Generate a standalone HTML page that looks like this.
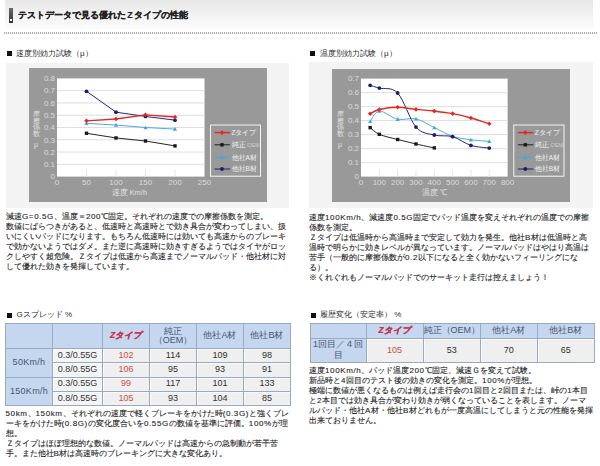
<!DOCTYPE html>
<html><head><meta charset="utf-8">
<style>
html,body{margin:0;padding:0;background:#fff;width:600px;height:466px;overflow:hidden;position:relative;font-family:"Liberation Sans",sans-serif;}
.abs{position:absolute;}
.hdr{position:absolute;left:5px;top:0;width:588px;height:29px;background:linear-gradient(#e8e8e8,#fcfcfc);}
.icon{position:absolute;left:9px;top:8px;width:4px;height:15px;background:linear-gradient(#6a6a6a,#333);}
.icon i{position:absolute;left:1px;top:11px;width:2px;height:2px;background:#fff;}
.title{position:absolute;left:18px;top:10px;font-size:8.85px;line-height:11px;font-weight:bold;color:#222;white-space:nowrap;-webkit-text-stroke:0.15px #222;}
.dots{position:absolute;left:4px;top:32px;width:594px;height:2px;background:repeating-linear-gradient(90deg,#b0b0b0 0 1px,#f4f4f4 1px 2px);}
.sq{position:absolute;width:5px;height:5px;background:#111;}
.st{position:absolute;font-size:8px;line-height:10px;color:#2a2a2a;white-space:nowrap;}
.panel{position:absolute;background:#f3f3f3;}
.ch{position:absolute;left:0;top:0;}
.al{font-size:8px;fill:#dadada;font-family:"Liberation Sans",sans-serif;}
.lg{font-size:6.5px;fill:#f4f4f4;font-family:"Liberation Sans",sans-serif;}
.yt{font-size:7px;fill:#e0e0e0;font-family:"Liberation Sans",sans-serif;}
.xt{font-size:7.5px;fill:#e0e0e0;font-family:"Liberation Sans",sans-serif;}
.h{letter-spacing:0.62px;}
.bt{position:absolute;font-size:8px;line-height:10px;color:#222;white-space:nowrap;-webkit-text-stroke:0.1px #222;}
table{position:absolute;border-collapse:collapse;font-size:9px;table-layout:fixed;}
td{padding:0;text-align:center;vertical-align:middle;line-height:9.5px;}
</style></head><body>
<div class="hdr"></div>
<div class="icon"><i></i></div>
<div class="title">テストデータで見る優れた<span style="margin:0 1.2px">Z</span>タイプの性能</div>
<div class="dots"></div>

<div class="sq" style="left:7px;top:51px"></div>
<div class="st" style="left:16px;top:48.5px">速度別効力試験（μ）</div>
<div class="sq" style="left:310px;top:51px"></div>
<div class="st" style="left:320px;top:48.5px">温度別効力試験（μ）</div>

<div class="panel" style="left:5.5px;top:62.5px;width:283px;height:145px"></div>
<div class="panel" style="left:309px;top:62px;width:284px;height:145.5px"></div>
<svg class="ch" width="600" height="466" viewBox="0 0 600 466">
<rect x="29" y="68" width="238" height="134" fill="#999999"/>
<rect x="57" y="78.4" width="147.5" height="98.19999999999999" fill="#ffffff"/>
<line x1="57" y1="164.32" x2="204.5" y2="164.32" stroke="#dedede" stroke-width="1"/>
<line x1="57" y1="152.05" x2="204.5" y2="152.05" stroke="#dedede" stroke-width="1"/>
<line x1="57" y1="139.78" x2="204.5" y2="139.78" stroke="#dedede" stroke-width="1"/>
<line x1="57" y1="127.50" x2="204.5" y2="127.50" stroke="#dedede" stroke-width="1"/>
<line x1="57" y1="115.22" x2="204.5" y2="115.22" stroke="#dedede" stroke-width="1"/>
<line x1="57" y1="102.95" x2="204.5" y2="102.95" stroke="#dedede" stroke-width="1"/>
<line x1="57" y1="90.68" x2="204.5" y2="90.68" stroke="#dedede" stroke-width="1"/>
<line x1="86.50" y1="169.6" x2="86.50" y2="176.6" stroke="#e6e6e6" stroke-width="1"/>
<line x1="116.00" y1="169.6" x2="116.00" y2="176.6" stroke="#e6e6e6" stroke-width="1"/>
<line x1="145.50" y1="169.6" x2="145.50" y2="176.6" stroke="#e6e6e6" stroke-width="1"/>
<line x1="175.00" y1="169.6" x2="175.00" y2="176.6" stroke="#e6e6e6" stroke-width="1"/>
<text x="55" y="179.40" text-anchor="end" class="al">0</text>
<text x="55" y="167.12" text-anchor="end" class="al">0.1</text>
<text x="55" y="154.85" text-anchor="end" class="al">0.2</text>
<text x="55" y="142.58" text-anchor="end" class="al">0.3</text>
<text x="55" y="130.30" text-anchor="end" class="al">0.4</text>
<text x="55" y="118.02" text-anchor="end" class="al">0.5</text>
<text x="55" y="105.75" text-anchor="end" class="al">0.6</text>
<text x="55" y="93.48" text-anchor="end" class="al">0.7</text>
<text x="55" y="81.20" text-anchor="end" class="al">0.8</text>
<text x="57.00" y="184.90" text-anchor="middle" class="al">0</text>
<text x="86.50" y="184.90" text-anchor="middle" class="al">50</text>
<text x="116.00" y="184.90" text-anchor="middle" class="al">100</text>
<text x="145.50" y="184.90" text-anchor="middle" class="al">150</text>
<text x="175.00" y="184.90" text-anchor="middle" class="al">200</text>
<text x="204.50" y="184.90" text-anchor="middle" class="al">250</text>
<path d="M86.50,133.27 L116.00,137.93 L145.50,141.00 L175.00,145.91" fill="none" stroke="#1a1a1a" stroke-width="0.95"/>
<rect x="84.80" y="131.57" width="3.40" height="3.40" fill="#1a1a1a"/>
<rect x="114.30" y="136.23" width="3.40" height="3.40" fill="#1a1a1a"/>
<rect x="143.80" y="139.30" width="3.40" height="3.40" fill="#1a1a1a"/>
<rect x="173.30" y="144.21" width="3.40" height="3.40" fill="#1a1a1a"/>
<path d="M86.50,123.33 L116.00,125.05 L145.50,127.50 L175.00,129.10" fill="none" stroke="#3fa9df" stroke-width="0.95"/>
<path d="M86.50,121.23 L88.60,125.01 L84.40,125.01Z" fill="#3fa9df"/>
<path d="M116.00,122.95 L118.10,126.73 L113.90,126.73Z" fill="#3fa9df"/>
<path d="M145.50,125.40 L147.60,129.18 L143.40,129.18Z" fill="#3fa9df"/>
<path d="M175.00,127.00 L177.10,130.78 L172.90,130.78Z" fill="#3fa9df"/>
<path d="M86.50,91.29 L116.00,112.16 L145.50,116.45 L175.00,120.13" fill="none" stroke="#1c1c6e" stroke-width="0.95"/>
<circle cx="86.50" cy="91.29" r="1.9" fill="#1c1c6e"/>
<circle cx="116.00" cy="112.16" r="1.9" fill="#1c1c6e"/>
<circle cx="145.50" cy="116.45" r="1.9" fill="#1c1c6e"/>
<circle cx="175.00" cy="120.13" r="1.9" fill="#1c1c6e"/>
<path d="M86.50,120.87 L116.00,118.91 L145.50,114.86 L175.00,117.07" fill="none" stroke="#e02a24" stroke-width="1.45"/>
<path d="M86.50,118.57 L88.80,120.87 L86.50,123.17 L84.20,120.87Z" fill="#e02a24"/>
<path d="M116.00,116.61 L118.30,118.91 L116.00,121.21 L113.70,118.91Z" fill="#e02a24"/>
<path d="M145.50,112.56 L147.80,114.86 L145.50,117.16 L143.20,114.86Z" fill="#e02a24"/>
<path d="M175.00,114.77 L177.30,117.07 L175.00,119.37 L172.70,117.07Z" fill="#e02a24"/>
<rect x="210.5" y="125.0" width="50" height="51.19999999999999" fill="none" stroke="#f4f4f4" stroke-width="1"/>
<line x1="214.5" y1="132.6" x2="230" y2="132.6" stroke="#e02a24" stroke-width="1.45"/>
<path d="M222.00,130.30 L224.30,132.60 L222.00,134.90 L219.70,132.60Z" fill="#e02a24"/>
<text x="231.5" y="135.0" class="lg">Zタイプ</text>
<line x1="214.5" y1="144.8" x2="230" y2="144.8" stroke="#1a1a1a" stroke-width="0.95"/>
<rect x="220.30" y="143.10" width="3.40" height="3.40" fill="#1a1a1a"/>
<text x="231.5" y="147.20000000000002" class="lg">純正 <tspan fill="#cfcfcf" font-size="5.5">OEM</tspan></text>
<line x1="214.5" y1="157.2" x2="230" y2="157.2" stroke="#3fa9df" stroke-width="0.95"/>
<path d="M222.00,155.10 L224.10,158.88 L219.90,158.88Z" fill="#3fa9df"/>
<text x="231.5" y="159.6" class="lg">他社A材</text>
<line x1="214.5" y1="169" x2="230" y2="169" stroke="#1c1c6e" stroke-width="0.95"/>
<circle cx="222.00" cy="169.00" r="1.9" fill="#1c1c6e"/>
<text x="231.5" y="171.4" class="lg">他社B材</text>
<text x="36" y="116.00" text-anchor="middle" class="yt">摩</text>
<text x="36" y="122.60" text-anchor="middle" class="yt">擦</text>
<text x="36" y="129.20" text-anchor="middle" class="yt">係</text>
<text x="36" y="135.80" text-anchor="middle" class="yt">数</text>
<text x="36" y="147.00" text-anchor="middle" class="yt">μ</text>
<text x="111.5" y="194.5" class="xt">速度 Km/h</text>
<rect x="332" y="69" width="238" height="133" fill="#999999"/>
<rect x="361" y="78.6" width="146.60000000000002" height="98.0" fill="#ffffff"/>
<line x1="361" y1="162.60" x2="507.6" y2="162.60" stroke="#dedede" stroke-width="1"/>
<line x1="361" y1="148.60" x2="507.6" y2="148.60" stroke="#dedede" stroke-width="1"/>
<line x1="361" y1="134.60" x2="507.6" y2="134.60" stroke="#dedede" stroke-width="1"/>
<line x1="361" y1="120.60" x2="507.6" y2="120.60" stroke="#dedede" stroke-width="1"/>
<line x1="361" y1="106.60" x2="507.6" y2="106.60" stroke="#dedede" stroke-width="1"/>
<line x1="361" y1="92.60" x2="507.6" y2="92.60" stroke="#dedede" stroke-width="1"/>
<line x1="379.32" y1="169.6" x2="379.32" y2="176.6" stroke="#e6e6e6" stroke-width="1"/>
<line x1="397.65" y1="169.6" x2="397.65" y2="176.6" stroke="#e6e6e6" stroke-width="1"/>
<line x1="415.98" y1="169.6" x2="415.98" y2="176.6" stroke="#e6e6e6" stroke-width="1"/>
<line x1="434.30" y1="169.6" x2="434.30" y2="176.6" stroke="#e6e6e6" stroke-width="1"/>
<line x1="452.62" y1="169.6" x2="452.62" y2="176.6" stroke="#e6e6e6" stroke-width="1"/>
<line x1="470.95" y1="169.6" x2="470.95" y2="176.6" stroke="#e6e6e6" stroke-width="1"/>
<line x1="489.27" y1="169.6" x2="489.27" y2="176.6" stroke="#e6e6e6" stroke-width="1"/>
<text x="359" y="179.40" text-anchor="end" class="al">0</text>
<text x="359" y="165.40" text-anchor="end" class="al">0.1</text>
<text x="359" y="151.40" text-anchor="end" class="al">0.2</text>
<text x="359" y="137.40" text-anchor="end" class="al">0.3</text>
<text x="359" y="123.40" text-anchor="end" class="al">0.4</text>
<text x="359" y="109.40" text-anchor="end" class="al">0.5</text>
<text x="359" y="95.40" text-anchor="end" class="al">0.6</text>
<text x="359" y="81.40" text-anchor="end" class="al">0.7</text>
<text x="361.00" y="184.90" text-anchor="middle" class="al">0</text>
<text x="379.32" y="184.90" text-anchor="middle" class="al">100</text>
<text x="397.65" y="184.90" text-anchor="middle" class="al">200</text>
<text x="415.98" y="184.90" text-anchor="middle" class="al">300</text>
<text x="434.30" y="184.90" text-anchor="middle" class="al">400</text>
<text x="452.62" y="184.90" text-anchor="middle" class="al">500</text>
<text x="470.95" y="184.90" text-anchor="middle" class="al">600</text>
<text x="489.27" y="184.90" text-anchor="middle" class="al">700</text>
<text x="507.60" y="184.90" text-anchor="middle" class="al">800</text>
<path d="M370.16,127.60 C371.69,128.72 374.74,132.34 379.32,134.32 C383.91,136.30 391.54,137.89 397.65,139.50 C403.76,141.11 409.87,142.58 415.98,143.98 C422.08,145.38 431.25,147.25 434.30,147.90" fill="none" stroke="#1a1a1a" stroke-width="0.95"/>
<rect x="368.46" y="125.90" width="3.40" height="3.40" fill="#1a1a1a"/>
<rect x="377.62" y="132.62" width="3.40" height="3.40" fill="#1a1a1a"/>
<rect x="395.95" y="137.80" width="3.40" height="3.40" fill="#1a1a1a"/>
<rect x="414.28" y="142.28" width="3.40" height="3.40" fill="#1a1a1a"/>
<rect x="432.60" y="146.20" width="3.40" height="3.40" fill="#1a1a1a"/>
<path d="M370.16,121.44 C371.69,119.71 374.74,111.45 379.32,111.08 C383.91,110.71 391.54,117.89 397.65,119.20 C403.76,120.51 409.87,117.52 415.98,118.92 C422.08,120.32 428.19,124.71 434.30,127.60 C440.41,130.49 446.52,134.25 452.62,136.28 C458.73,138.31 464.84,138.94 470.95,139.78 C477.06,140.62 486.22,141.06 489.27,141.32" fill="none" stroke="#3fa9df" stroke-width="0.95"/>
<path d="M370.16,119.34 L372.26,123.12 L368.06,123.12Z" fill="#3fa9df"/>
<path d="M379.32,108.98 L381.43,112.76 L377.22,112.76Z" fill="#3fa9df"/>
<path d="M397.65,117.10 L399.75,120.88 L395.55,120.88Z" fill="#3fa9df"/>
<path d="M415.98,116.82 L418.08,120.60 L413.88,120.60Z" fill="#3fa9df"/>
<path d="M434.30,125.50 L436.40,129.28 L432.20,129.28Z" fill="#3fa9df"/>
<path d="M452.62,134.18 L454.73,137.96 L450.52,137.96Z" fill="#3fa9df"/>
<path d="M470.95,137.68 L473.05,141.46 L468.85,141.46Z" fill="#3fa9df"/>
<path d="M489.27,139.22 L491.38,143.00 L487.17,143.00Z" fill="#3fa9df"/>
<path d="M370.16,85.32 C371.69,85.79 374.74,86.84 379.32,88.12 C383.91,89.40 391.54,86.53 397.65,93.02 C403.76,99.51 409.87,120.04 415.98,127.04 C422.08,134.04 428.19,133.41 434.30,135.02 C440.41,136.63 446.52,134.97 452.62,136.70 C458.73,138.43 464.84,143.49 470.95,145.38 C477.06,147.27 486.22,147.60 489.27,148.04" fill="none" stroke="#1c1c6e" stroke-width="0.95"/>
<circle cx="370.16" cy="85.32" r="1.9" fill="#1c1c6e"/>
<circle cx="379.32" cy="88.12" r="1.9" fill="#1c1c6e"/>
<circle cx="397.65" cy="93.02" r="1.9" fill="#1c1c6e"/>
<circle cx="415.98" cy="127.04" r="1.9" fill="#1c1c6e"/>
<circle cx="434.30" cy="135.02" r="1.9" fill="#1c1c6e"/>
<circle cx="452.62" cy="136.70" r="1.9" fill="#1c1c6e"/>
<circle cx="470.95" cy="145.38" r="1.9" fill="#1c1c6e"/>
<circle cx="489.27" cy="148.04" r="1.9" fill="#1c1c6e"/>
<path d="M370.16,113.74 C371.69,113.04 374.74,110.61 379.32,109.54 C383.91,108.47 391.54,107.32 397.65,107.30 C403.76,107.28 409.87,108.77 415.98,109.40 C422.08,110.03 428.19,110.38 434.30,111.08 C440.41,111.78 446.52,112.46 452.62,113.60 C458.73,114.74 464.84,116.24 470.95,117.94 C477.06,119.64 486.22,122.84 489.27,123.82" fill="none" stroke="#e02a24" stroke-width="1.45"/>
<path d="M370.16,111.44 L372.46,113.74 L370.16,116.04 L367.86,113.74Z" fill="#e02a24"/>
<path d="M379.32,107.24 L381.62,109.54 L379.32,111.84 L377.02,109.54Z" fill="#e02a24"/>
<path d="M397.65,105.00 L399.95,107.30 L397.65,109.60 L395.35,107.30Z" fill="#e02a24"/>
<path d="M415.98,107.10 L418.28,109.40 L415.98,111.70 L413.68,109.40Z" fill="#e02a24"/>
<path d="M434.30,108.78 L436.60,111.08 L434.30,113.38 L432.00,111.08Z" fill="#e02a24"/>
<path d="M452.62,111.30 L454.93,113.60 L452.62,115.90 L450.32,113.60Z" fill="#e02a24"/>
<path d="M470.95,115.64 L473.25,117.94 L470.95,120.24 L468.65,117.94Z" fill="#e02a24"/>
<path d="M489.27,121.52 L491.57,123.82 L489.27,126.12 L486.97,123.82Z" fill="#e02a24"/>
<rect x="513.8" y="125.0" width="50.200000000000045" height="51.19999999999999" fill="none" stroke="#f4f4f4" stroke-width="1"/>
<line x1="517.8" y1="132.6" x2="533.3" y2="132.6" stroke="#e02a24" stroke-width="1.45"/>
<path d="M525.30,130.30 L527.60,132.60 L525.30,134.90 L523.00,132.60Z" fill="#e02a24"/>
<text x="534.8" y="135.0" class="lg">Zタイプ</text>
<line x1="517.8" y1="144.8" x2="533.3" y2="144.8" stroke="#1a1a1a" stroke-width="0.95"/>
<rect x="523.60" y="143.10" width="3.40" height="3.40" fill="#1a1a1a"/>
<text x="534.8" y="147.20000000000002" class="lg">純正 <tspan fill="#cfcfcf" font-size="5.5">OEM</tspan></text>
<line x1="517.8" y1="157.2" x2="533.3" y2="157.2" stroke="#3fa9df" stroke-width="0.95"/>
<path d="M525.30,155.10 L527.40,158.88 L523.20,158.88Z" fill="#3fa9df"/>
<text x="534.8" y="159.6" class="lg">他社A材</text>
<line x1="517.8" y1="169" x2="533.3" y2="169" stroke="#1c1c6e" stroke-width="0.95"/>
<circle cx="525.30" cy="169.00" r="1.9" fill="#1c1c6e"/>
<text x="534.8" y="171.4" class="lg">他社B材</text>
<text x="340" y="116.00" text-anchor="middle" class="yt">摩</text>
<text x="340" y="122.60" text-anchor="middle" class="yt">擦</text>
<text x="340" y="129.20" text-anchor="middle" class="yt">係</text>
<text x="340" y="135.80" text-anchor="middle" class="yt">数</text>
<text x="340" y="147.00" text-anchor="middle" class="yt">μ</text>
<text x="422" y="194.5" class="xt">温度 ℃</text>
</svg>

<div class="bt" style="left:6px;top:212px">減速<span class="h">G=0.5G</span>、温度＝<span class="h">200</span>℃固定。それぞれの速度での摩擦係数を測定。<br>数値にばらつきがあると、低速時と高速時とで効き具合が変わってしまい、扱<br>いにくいパッドになります。もちろん低速時には効いても高速からのブレーキ<br>で効かないようではダメ。また逆に高速時に効きすぎるようではタイヤがロッ<br>クしやすく超危険。Ｚタイプは低速から高速までノーマルパッド・他社材に対<br>して優れた効きを発揮しています。</div>
<div class="bt" style="left:309px;top:213px">速度<span class="h">100Km/h</span>、減速度<span class="h">0.5G</span>固定でパッド温度を変えそれぞれの温度での摩擦<br>係数を測定。<br>Ｚタイプは低温時から高温時まで安定して効力を発生。他社<span class="h">B</span>材は低温時と高<br>温時で明らかに効きレベルが異なっています。ノーマルパッドはやはり高温は<br>苦手（一般的に摩擦係数が<span class="h">0.2</span>以下になると全く効かないフィーリングにな<br>る）。<br>※くれぐれもノーマルパッドでのサーキット走行は控えましょう！</div>

<div class="sq" style="left:7px;top:313px"></div>
<div class="st" style="left:16.5px;top:310px">Gスプレッド %</div>
<div class="sq" style="left:310.5px;top:313px"></div>
<div class="st" style="left:320px;top:310px">履歴変化（安定率） %</div>

<table style="left:5px;top:323px;width:285px;height:82px">
<colgroup><col style="width:47px"><col style="width:50px"><col style="width:47px"><col style="width:47px"><col style="width:47px"><col style="width:47px"></colgroup>
<tr style="height:25px" class="hd"><td class="c1"></td><td class="c1"></td><td class="zt">Zタイプ</td><td>純正<br>（OEM）</td><td>他社A材</td><td>他社B材</td></tr>
<tr style="height:14.3px"><td class="c1 rs" rowspan="2">50Km/h</td><td class="g">0.3/0.55G</td><td class="r">102</td><td>114</td><td>109</td><td>98</td></tr>
<tr style="height:14.3px"><td class="g">0.8/0.55G</td><td class="r">106</td><td>95</td><td>93</td><td>91</td></tr>
<tr style="height:14.3px"><td class="c1 rs" rowspan="2">150Km/h</td><td class="g">0.3/0.55G</td><td class="r">99</td><td>117</td><td>101</td><td>133</td></tr>
<tr style="height:14.3px"><td class="g">0.8/0.55G</td><td class="r">105</td><td>93</td><td>104</td><td>85</td></tr>
</table>
<table style="left:309.5px;top:323px;width:284.5px;height:39px">
<colgroup><col style="width:56px"><col style="width:57px"><col style="width:57.5px"><col style="width:56.5px"><col style="width:57.5px"></colgroup>
<tr style="height:14.5px" class="hd"><td class="c1"></td><td class="zt">Zタイプ</td><td>純正（OEM）</td><td>他社A材</td><td>他社B材</td></tr>
<tr style="height:24.5px"><td class="c1 rs" style="line-height:11px;letter-spacing:0">1回目／４回<br>目</td><td class="r">105</td><td>53</td><td>70</td><td>65</td></tr>
</table>
<style>
table{border:1px solid #8ea6c6;}
td{border:1px solid #9aaac2;background:#efefef;color:#303030;box-shadow:inset 1px 1px 0 #fafafa;}
tr.hd td{background:#c4d7ee;color:#465672;box-shadow:none;}
td.c1{background:#c4d7ee;color:#465672;box-shadow:none;letter-spacing:0.3px;}
td.g{color:#333;background:#f3f4f6;}
td.r{color:#c9504a;}
tr.hd td.zt{color:#c8304e;font-weight:bold;font-style:italic;font-size:8.5px;-webkit-text-stroke:0.2px #c8304e;}
</style>


<div class="bt" style="left:5.5px;top:408.5px"><span class="h">50km</span>、<span class="h">150km</span>、それぞれの速度で軽くブレーキをかけた時<span class="h">(0.3G)</span>と強くブレ<br>ーキをかけた時<span class="h">(0.8G)</span>の変化度合いを<span class="h">0.55G</span>の数値を基準に評価。<span class="h">100%</span>が理<br>想。<br>Ｚタイプはほぼ理想的な数値。ノーマルパッドは高速からの急制動が若干苦<br>手。また他社<span class="h">B</span>材は高速時のブレーキングに大きな変化あり。</div>
<div class="bt" style="left:309px;top:366px">速度<span class="h">100Km/h</span>、パッド温度<span class="h">200</span>℃固定、減速Ｇを変えて試験。<br>新品時と<span class="h">4</span>回目のテスト後の効きの変化を測定。<span class="h">100%</span>が理想。<br>極端に数値が悪くなるものは例えば走行会の<span class="h">1</span>回目と<span class="h">2</span>回目または、峠の<span class="h">1</span>本目<br>と<span class="h">2</span>本目では効き具合が変わり効きが弱くなっていることを表します。ノーマ<br>ルパッド・他社<span class="h">A</span>材・他社<span class="h">B</span>材どれもが一度高温にしてしまうと元の性能を発揮<br>出来ておりません。</div>
</body></html>
